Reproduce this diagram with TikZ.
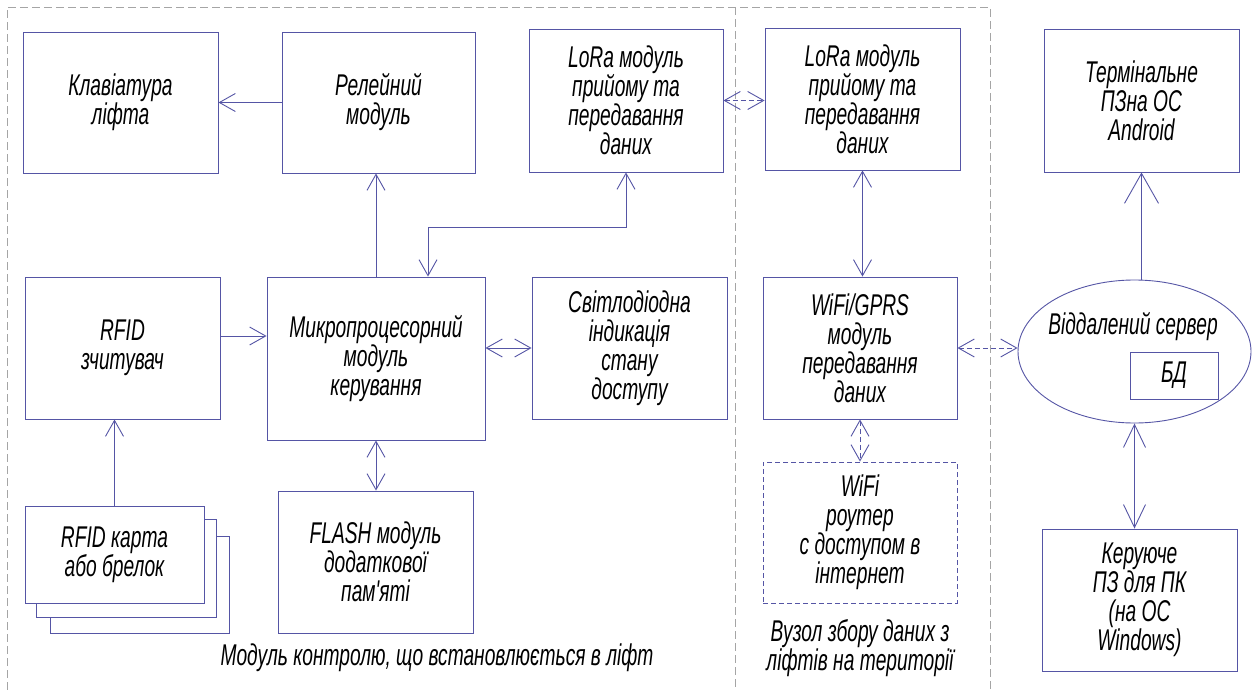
\documentclass[tikz,border=0pt]{standalone}
\usepackage{fontspec}
\newfontfamily\gost{Liberation Sans}[FakeStretch=0.64]
\usetikzlibrary{arrows.meta,shapes.geometric,calc}
\definecolor{ln}{RGB}{85,85,165}
\definecolor{fr}{RGB}{165,165,165}
\begin{document}
\begin{tikzpicture}[x=1pt,y=-1pt,
  txt/.style={font=\gost\itshape\fontsize{30}{29}\selectfont,align=center,inner sep=0pt},
  box/.style={txt,draw=ln,line width=0.9pt,fill=white},
  dbox/.style={box,dash pattern=on 5pt off 3pt},
  conn/.style={draw=ln,line width=0.9pt},
  dconn/.style={conn,dash pattern=on 5pt off 3pt},
  frame/.style={draw=fr,line width=0.8pt,dash pattern=on 8pt off 4pt},
  >={Straight Barb[length=16pt,width=18pt]},
  big/.style={>={Straight Barb[length=30pt,width=34pt]}},
  mid/.style={>={Straight Barb[length=23pt,width=22pt]}}]
\useasboundingbox (0,0) rectangle (1256,690);
% frames
\draw[frame] (7,690) -- (7,7) -- (990,7) -- (990,690);
\draw[frame] (735,7) -- (735,690);
% boxes
\node[box,minimum width=195pt,minimum height=141pt] (kb) at (120.5,102.5) {Клавіатура\\ліфта};
\node[box,minimum width=193pt,minimum height=141pt] (relay) at (378.5,102.5) {Релейний\\модуль};
\node[box,minimum width=194pt,minimum height=143pt] (lora1) at (626,100.5) {LoRa модуль\\прийому та\\передавання\\даних};
\node[box,minimum width=195pt,minimum height=142pt] (lora2) at (862.5,99) {LoRa модуль\\прийому та\\передавання\\даних};
\node[box,minimum width=195pt,minimum height=143pt] (term) at (1141.5,100.5) {Термінальне\\ПЗна ОС\\Android};
\node[box,minimum width=195pt,minimum height=142pt] (rfid) at (122.5,348) {RFID\\зчитувач};
\node[box,minimum width=218pt,minimum height=163pt] (mcu) at (376,358.5) {Микропроцесорний\\модуль\\керування};
\node[box,minimum width=195pt,minimum height=142pt] (led) at (629.5,348) {Світлодіодна\\індикація\\стану\\доступу};
\node[box,minimum width=194pt,minimum height=142pt] (wifi) at (860,348) {WiFi/GPRS\\модуль\\передавання\\даних};
\node[dbox,minimum width=194pt,minimum height=141pt] (router) at (860,532.5) {WiFi\\роутер\\с доступом в\\інтернет};
\node[box,minimum width=195pt,minimum height=142pt] (pc) at (1139.5,600) {Керуюче\\ПЗ для ПК\\(на ОС\\Windows)};
\node[box,minimum width=195pt,minimum height=142pt] (flash) at (375.5,562) {FLASH модуль\\додаткової\\пам'яті};
\node[box,minimum width=179pt,minimum height=97pt] (card3) at (139.5,584.5) {};
\node[box,minimum width=180pt,minimum height=98pt] (card2) at (126,568) {};
\node[box,minimum width=179pt,minimum height=97pt] (card) at (114.5,554.5) {RFID карта\\або брелок};
\node[draw=ln,line width=0.9pt,ellipse,minimum width=233pt,minimum height=143pt,inner sep=0pt] (srv) at (1134.5,351.5) {};
\node[txt] (srvt) at (1133,327) {Віддалений сервер};
\node[box,minimum width=88pt,minimum height=47pt] (db) at (1174,375.5) {БД};
% labels
\node[txt] (lbl1) at (437,658) {Модуль контролю, що встановлюється в ліфт};
\node[txt] (lbl2) at (860,648) {Вузол збору даних з\\ліфтів на території};
% connectors
\draw[conn,->] (relay.west) -- (kb.east);
\draw[conn,->] (mcu.north) -- (mcu.north |- relay.south);
\draw[conn,<->] ([xshift=52pt]mcu.north) -- ++(0,-49) -| (lora1.south);
\draw[conn,->] ([yshift=12pt]rfid.east) -- ([yshift=12pt]rfid.east -| mcu.west);
\draw[conn,<->] (mcu.east |- led.west) -- (led.west);
\draw[conn,<->] (mcu.south) -- (mcu.south |- flash.north);
\draw[conn,->] (card.north) -- (card.north |- rfid.south);
\draw[dconn,<->] (lora1.east) -- (lora1.east -| lora2.west);
\draw[conn,<->] (lora2.south) -- (lora2.south |- wifi.north);
\draw[dconn,<->] (wifi.south) -- (router.north);
\draw[dconn,<->] (wifi.east) -- (wifi.east -| srv.west);
\draw[conn,big,->] (term.south |- srv.north) -- (term.south);
\draw[conn,mid,<->] (srv.south) -- (srv.south |- pc.north);
\end{tikzpicture}
\end{document}
